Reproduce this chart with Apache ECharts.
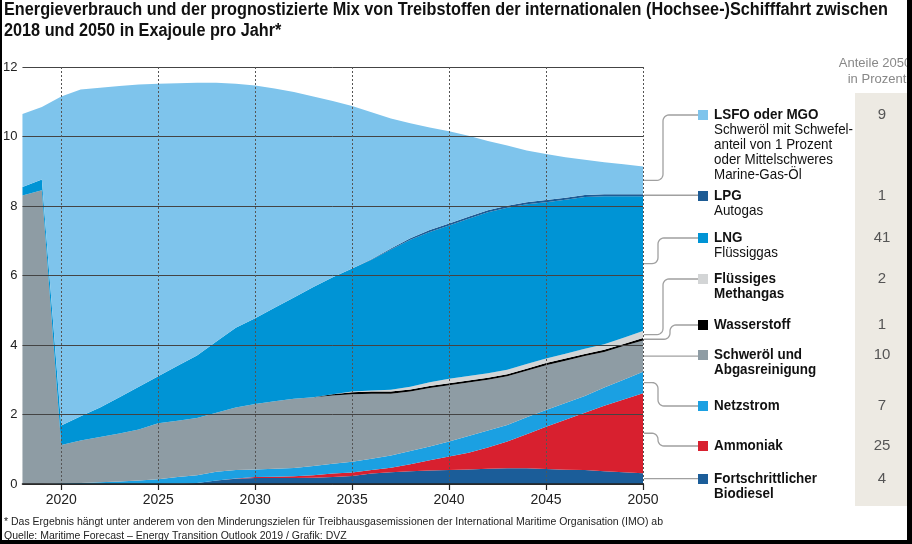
<!DOCTYPE html>
<html>
<head>
<meta charset="utf-8">
<title>Treibstoffmix Schifffahrt</title>
<script src="https://cdn.jsdelivr.net/npm/echarts@6/dist/echarts.min.js"></script>
<style>
    html, body { margin: 0; padding: 0; background: #fff; }
    #main { width: 912px; height: 544px; }
</style>
</head>
<body>
<div id="main"></div>
<script>
// Jahre (Kategorien)
var years = ['2018','2019','2020','2021','2022','2023','2024','2025','2026','2027','2028',
    '2029','2030','2031','2032','2033','2034','2035','2036','2037','2038','2039',
    '2040','2041','2042','2043','2044','2045','2046','2047','2048','2049','2050'];

// Werte in Exajoule, von unten nach oben gestapelt
var biodiesel = [0,0,0,0,0,0,0,0,0.01,0.03,0.1,0.15,0.17,0.17,0.17,0.18,0.2,0.23,0.3,0.34,0.37,0.39,0.4,0.42,0.44,0.45,0.45,0.43,0.41,0.4,0.37,0.34,0.31];
var ammoniak = [0,0,0,0,0,0,0,0,0,0,0,0.01,0.03,0.04,0.05,0.07,0.1,0.1,0.1,0.13,0.2,0.29,0.39,0.48,0.61,0.77,0.98,1.22,1.44,1.65,1.88,2.09,2.3];
var netzstrom = [0,0,0.02,0.03,0.05,0.07,0.1,0.14,0.19,0.22,0.25,0.24,0.22,0.23,0.24,0.27,0.28,0.31,0.33,0.35,0.38,0.4,0.43,0.48,0.49,0.48,0.49,0.48,0.48,0.48,0.53,0.57,0.62];
var schweroel = [8.3,8.45,1.1,1.22,1.3,1.38,1.47,1.61,1.62,1.65,1.7,1.8,1.88,1.94,1.99,1.98,1.97,1.94,1.87,1.78,1.71,1.68,1.62,1.54,1.46,1.4,1.34,1.29,1.22,1.15,1.02,0.97,0.9];
var wasserstoff = [0,0,0,0,0,0,0,0,0,0,0,0,0,0,0,0,0.03,0.06,0.06,0.06,0.06,0.06,0.06,0.06,0.06,0.06,0.06,0.06,0.06,0.06,0.06,0.06,0.07];
var methangas = [0,0,0,0,0,0,0,0,0,0,0,0,0,0,0,0,0,0.02,0.03,0.05,0.08,0.11,0.13,0.13,0.13,0.13,0.13,0.13,0.14,0.15,0.16,0.18,0.2];
var lng = [0.25,0.31,0.56,0.7,0.85,1.05,1.23,1.35,1.58,1.8,2.05,2.3,2.47,2.69,2.92,3.17,3.37,3.54,3.76,4.04,4.23,4.32,4.41,4.52,4.63,4.66,4.6,4.5,4.43,4.37,4.26,4.07,3.88];
var lpg = [0,0,0,0,0,0,0,0,0,0,0,0,0,0,0,0,0,0,0.02,0.03,0.04,0.06,0.06,0.06,0.06,0.06,0.06,0.06,0.06,0.06,0.06,0.06,0.06];
var lsfo = [2.1,2.09,9.47,9.4,9.2,8.95,8.7,8.42,8.13,7.85,7.45,7.02,6.7,6.31,5.91,5.48,5.07,4.68,4.23,3.74,3.31,2.95,2.65,2.33,1.99,1.73,1.49,1.33,1.16,1.01,0.92,0.86,0.8];

// Legende (von oben nach unten) und Anteile 2050 in Prozent
var legendNames = ['LSFO oder MGO', 'LPG', 'LNG', 'Flüssiges\nMethangas', 'Wasserstoff',
    'Schweröl und\nAbgasreinigung', 'Netzstrom', 'Ammoniak', 'Fortschrittlicher\nBiodiesel'];
var legendNotes = ['Schweröl mit Schwefel-\nanteil von 1 Prozent\noder Mittelschweres\nMarine-Gas-Öl',
    'Autogas', 'Flüssiggas', '', '', '', '', '', ''];
var shares2050 = ['9', '1', '41', '2', '1', '10', '7', '25', '4'];

var titleLines = ['Energieverbrauch und der prognostizierte Mix von Treibstoffen der internationalen (Hochsee-)Schifffahrt zwischen',
    '2018 und 2050 in Exajoule pro Jahr*'];
var footLines = ['* Das Ergebnis hängt unter anderem von den Minderungszielen für Treibhausgasemissionen der International Maritime Organisation (IMO) ab',
    'Quelle: Maritime Forecast – Energy Transition Outlook 2019 / Grafik: DVZ'];

var sans = '"Liberation Sans", Arial, sans-serif';

// Stapelreihenfolge, unten zuerst
var layers = [
    {name: 'Fortschrittlicher Biodiesel', data: biodiesel, color: '#1b5d99', legend: 8},
    {name: 'Ammoniak', data: ammoniak, color: '#d8202f', legend: 7},
    {name: 'Netzstrom', data: netzstrom, color: '#1ba0e2', legend: 6},
    {name: 'Schweröl und Abgasreinigung', data: schweroel, color: '#8e9ca4', legend: 5},
    {name: 'Wasserstoff', data: wasserstoff, color: '#000000', legend: 4},
    {name: 'Flüssiges Methangas', data: methangas, color: '#d3d5d6', legend: 3},
    {name: 'LNG', data: lng, color: '#0094d5', legend: 2},
    {name: 'LPG', data: lpg, color: '#1d5b94', legend: 1},
    {name: 'LSFO oder MGO', data: lsfo, color: '#7ec4ec', legend: 0}
];

var every5 = function (index, value) {
    return parseInt(value, 10) % 5 === 0;
};

// schmale Schrift nachbilden: Breite auf Zielbreite stauchen
var measureCtx = document.createElement('canvas').getContext('2d');
function fitScale(text, font, target) {
    measureCtx.font = font;
    return target / measureCtx.measureText(text).width;
}

var myChart = echarts.init(document.getElementById('main'));

var option = {
    animation: false,
    backgroundColor: '#fff',
    grid: {left: 22, right: 269, top: 67, bottom: 60},
    xAxis: {
        type: 'category',
        data: years,
        boundaryGap: false,
        z: 5,
        axisLine: {lineStyle: {color: '#222', width: 1.5}},
        axisTick: {show: true, interval: every5, length: 6, lineStyle: {color: '#222', width: 1.2}},
        axisLabel: {interval: every5, color: '#222', fontSize: 14, fontFamily: sans, margin: 9},
        splitLine: {show: true, interval: every5, lineStyle: {color: '#555', width: 1, type: [2, 2]}}
    },
    yAxis: {
        type: 'value',
        min: 0,
        max: 12,
        interval: 2,
        z: 5,
        axisLine: {show: false},
        axisTick: {show: false},
        axisLabel: {color: '#222', fontSize: 13, fontFamily: sans, margin: 5},
        splitLine: {lineStyle: {color: '#444', width: 1}}
    },
    series: layers.map(function (l) {
        return {
            name: l.name,
            type: 'line',
            stack: 'mix',
            data: l.data,
            symbol: 'none',
            silent: true,
            lineStyle: {width: 0},
            itemStyle: {color: l.color},
            areaStyle: {color: l.color, opacity: 1}
        };
    })
};
myChart.setOption(option);

var graphics = [];

// Titel
var titleFont = 'bold 18px ' + sans;
var titleScale = fitScale(titleLines[0], titleFont, 884);
titleLines.forEach(function (t, k) {
    graphics.push({type: 'text', x: 4, y: 10 + k * 21, scaleX: titleScale, style: {
        text: t, fill: '#111', font: titleFont, textVerticalAlign: 'middle'}});
});

// Fußnote und Quelle
var footFont = '11.5px ' + sans;
var footScale = fitScale(footLines[0], footFont, 659);
footLines.forEach(function (t, k) {
    graphics.push({type: 'text', x: 4, y: 522 + k * 14, scaleX: footScale, style: {
        text: t, fill: '#222', font: footFont, textVerticalAlign: 'middle'}});
});

// Prozentspalte
graphics.push({type: 'rect', shape: {x: 855, y: 93, width: 52, height: 413}, style: {fill: '#edeae3'}, z: 1});
graphics.push({type: 'text', x: 875, y: 63, style: {text: 'Anteile 2050', textAlign: 'center', textVerticalAlign: 'middle', fill: '#888', font: '13px ' + sans}});
graphics.push({type: 'text', x: 877, y: 79, style: {text: 'in Prozent', textAlign: 'center', textVerticalAlign: 'middle', fill: '#888', font: '13px ' + sans}});

// Legende mit Verbindungslinien
var legendY = [115, 196, 238, 279, 325, 355, 406, 446, 479];
var bendX = [663, null, 658, 663, 670, null, 658, 658, null];
var lineH = 15;
var boldFont = 'bold 14.5px ' + sans;
var regFont = '14.5px ' + sans;
var boldScale = fitScale('Fortschrittlicher', boldFont, 103);
var regScale = fitScale('Schweröl mit Schwefel-', regFont, 139);

function elbow(x0, y0, xb, y1, x1) {
    var r = 6, d = y1 < y0 ? -1 : 1, pts = [[x0, y0]];
    var a, k, steps = 6;
    for (k = 0; k <= steps; k++) {
        a = Math.PI / 2 * k / steps;
        pts.push([xb - r + r * Math.sin(a), y0 + d * r - d * r * Math.cos(a)]);
    }
    for (k = 0; k <= steps; k++) {
        a = Math.PI / 2 * k / steps;
        pts.push([xb + r - r * Math.cos(a), y1 - d * r + d * r * Math.sin(a)]);
    }
    pts.push([x1, y1]);
    return pts;
}

var last = years.length - 1;
var cum = 0;
layers.forEach(function (l) {
    var v = l.data[last];
    var mid = myChart.convertToPixel({gridIndex: 0}, [last, cum + v / 2]);
    cum += v;
    var i = l.legend;
    var y0 = mid[1], y1 = legendY[i], x0 = mid[0] + 1, x1 = 698;
    var pts = bendX[i] === null ? [[x0, y0], [x1, y0]] : elbow(x0, y0, bendX[i], y1, x1);
    graphics.push({type: 'polyline', shape: {points: pts}, style: {stroke: '#a0a0a0', lineWidth: 1.3, fill: null}, z: 2});
    graphics.push({type: 'rect', shape: {x: 698, y: y1 - 5, width: 10, height: 10}, style: {fill: l.color}, z: 3});
    var names = legendNames[i].split('\n');
    names.forEach(function (t, k) {
        graphics.push({type: 'text', x: 714, y: y1 + k * lineH, scaleX: boldScale, style: {
            text: t, fill: '#111', font: boldFont, textVerticalAlign: 'middle'}, z: 3});
    });
    if (legendNotes[i]) {
        legendNotes[i].split('\n').forEach(function (t, k) {
            graphics.push({type: 'text', x: 714, y: y1 + (names.length + k) * lineH, scaleX: regScale, style: {
                text: t, fill: '#111', font: regFont, textVerticalAlign: 'middle'}, z: 3});
        });
    }
    graphics.push({type: 'text', x: 882, y: y1, style: {
        text: shares2050[i], fill: '#555', font: '15px ' + sans,
        textAlign: 'center', textVerticalAlign: 'middle'}, z: 3});
});

// Rahmen
graphics.push({type: 'rect', shape: {x: 0, y: 0, width: 2, height: 544}, style: {fill: '#000'}, z: 10});
graphics.push({type: 'rect', shape: {x: 0, y: 540, width: 912, height: 4}, style: {fill: '#000'}, z: 10});
graphics.push({type: 'rect', shape: {x: 907, y: 0, width: 5, height: 544}, style: {fill: '#000'}, z: 10});

myChart.setOption({graphic: {elements: graphics}});
</script>
</body>
</html>
